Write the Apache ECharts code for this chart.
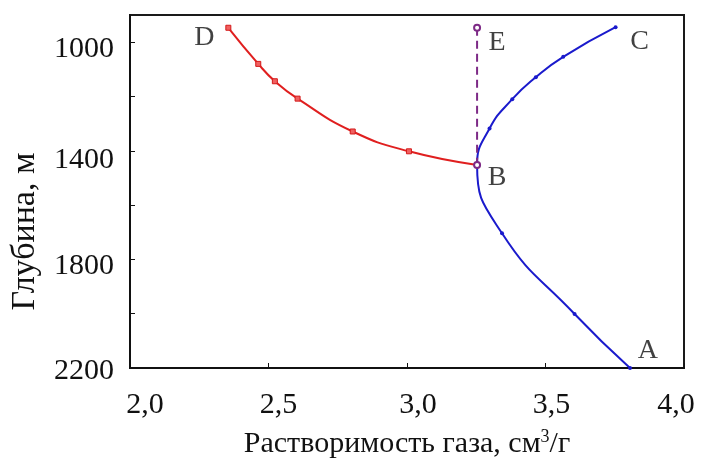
<!DOCTYPE html>
<html>
<head>
<meta charset="utf-8">
<script src="https://cdn.jsdelivr.net/npm/echarts@6/dist/echarts.min.js"></script>
<style>html,body{margin:0;padding:0;background:#fff;}#c{width:701px;height:464px;}</style>
</head>
<body>
<div id="c"></div>
<script>
// Data
const redX  = [2.355, 2.463, 2.523, 2.605, 2.804, 3.007, 3.253];
const redY  = [947, 1080, 1144, 1208, 1329, 1402, 1452];
const blueX = [3.805, 3.605, 3.343, 3.253, 3.298, 3.380, 3.465, 3.564, 3.753];
const blueY = [2200, 2001, 1704, 1452, 1318, 1210, 1129, 1054, 945];
const dashX = [3.253, 3.253];
const dashY = [947, 1452];
const pointNames = ['A', 'B', 'C', 'D', 'E'];
const pointX = [3.805, 3.253, 3.753, 2.355, 3.253];
const pointY = [2200, 1452, 945, 947, 947];
const xTicks = [2.0, 2.5, 3.0, 3.5, 4.0];
const yLabelVals = [1000, 1400, 1800, 2200];
const yTickVals = [1000, 1200, 1400, 1600, 1800, 2000, 2200];
const xTitle = 'Растворимость газа, см';
const xTitleSup = '3';
const xTitleEnd = '/г';
const yTitle = 'Глубина, м';

const FONT = 'Liberation Serif';
const labelOffsets = { A: [18, -17], B: [20, 13], C: [24, 14], D: [-24, 10], E: [20, 15] };
// per-label nudges of tick labels (style only)
const xLabelPad = [[0, 0, 0, 30], [0, 0, 0, 20], [0, 0, 0, 22], [0, 0, 0, 12], [0, 16, 0, 0]];
const yLabelPad = [[14, 0, 0, 0], [18, 0, 0, 0], [14, 0, 0, 0], [6, 0, 0, 0]];

const zip = (xs, ys) => xs.map((x, i) => [x, ys[i]]);
const xRich = {};
xLabelPad.forEach((p, i) => { xRich['l' + i] = { fontFamily: FONT, fontSize: 30, color: '#111', padding: p }; });
const yRich = {};
yLabelPad.forEach((p, i) => { yRich['v' + i] = { fontFamily: FONT, fontSize: 30, color: '#111', padding: p }; });

const chart = echarts.init(document.getElementById('c'), null, { renderer: 'canvas' });
chart.setOption({
  animation: false,
  backgroundColor: '#fff',
  grid: { left: 130, top: 15, right: 17, bottom: 96, show: true, borderColor: '#1a1a1a', borderWidth: 2, backgroundColor: 'transparent' },
  xAxis: {
    type: 'value', min: 2, max: 4, interval: 0.5,
    axisLine: { show: true, lineStyle: { color: '#111', width: 2 } },
    axisTick: { show: true, inside: true, length: 5, lineStyle: { color: '#111', width: 1 }, customValues: xTicks },
    axisLabel: { fontFamily: FONT, fontSize: 30, color: '#111', margin: 22, customValues: xTicks, rich: xRich,
      formatter: v => {
        const i = xTicks.findIndex(t => Math.abs(t - v) < 1e-9);
        return '{l' + (i < 0 ? 0 : i) + '|' + v.toFixed(1).replace('.', ',') + '}';
      } },
    splitLine: { show: false },
    name: '{t|' + xTitle + '}{s|' + xTitleSup + '}{t|' + xTitleEnd + '}',
    nameLocation: 'middle', nameGap: 60,
    nameTextStyle: { fontFamily: FONT, fontSize: 30, color: '#111',
      rich: { t: { fontFamily: FONT, fontSize: 30, color: '#111' },
              s: { fontFamily: FONT, fontSize: 18, color: '#111', verticalAlign: 'top', padding: [0, 0, 14, 0] } } }
  },
  yAxis: {
    type: 'value', inverse: true, min: 900, max: 2200, interval: 100,
    axisLine: { show: true, lineStyle: { color: '#111', width: 2 } },
    axisTick: { show: true, inside: true, length: 5, lineStyle: { color: '#111', width: 1 }, customValues: yTickVals },
    axisLabel: { fontFamily: FONT, fontSize: 30, color: '#111', margin: 16, customValues: yLabelVals, rich: yRich,
      formatter: v => {
        const i = yLabelVals.indexOf(v);
        return i >= 0 ? '{v' + i + '|' + v + '}' : '';
      } },
    splitLine: { show: false },
    name: yTitle, nameLocation: 'middle', nameGap: 88, nameRotate: 90,
    nameTextStyle: { fontFamily: FONT, fontSize: 34, color: '#111', padding: [0, 80, 0, 0] }
  },
  series: [
    {
      type: 'line', data: zip(redX, redY), smooth: true, z: 3,
      symbol: 'rect', symbolSize: 5, showSymbol: true,
      lineStyle: { color: '#e01f1f', width: 2 },
      itemStyle: { color: '#f06060', borderColor: '#d41a1a', borderWidth: 1 }
    },
    {
      type: 'line', data: zip(blueX, blueY), smooth: true, z: 3,
      symbol: 'circle', symbolSize: 4, showSymbol: true,
      lineStyle: { color: '#1a1acc', width: 2 },
      itemStyle: { color: '#1a1acc' }
    },
    {
      type: 'line', data: zip(dashX, dashY), z: 4,
      symbol: 'emptyCircle', symbolSize: 6, showSymbol: true,
      lineStyle: { color: '#7d2a86', width: 2, type: [8, 5] },
      itemStyle: { color: '#7d2a86', borderColor: '#7d2a86', borderWidth: 1.5 }
    },
    {
      type: 'scatter', symbolSize: 0, z: 5, silent: true,
      data: pointNames.map((n, i) => ({
        name: n, value: [pointX[i], pointY[i]],
        label: { show: true, position: 'inside', offset: labelOffsets[n], formatter: '{b}',
          fontFamily: FONT, fontSize: 28, color: '#111' }
      }))
    }
  ]
});
</script>
</body>
</html>
